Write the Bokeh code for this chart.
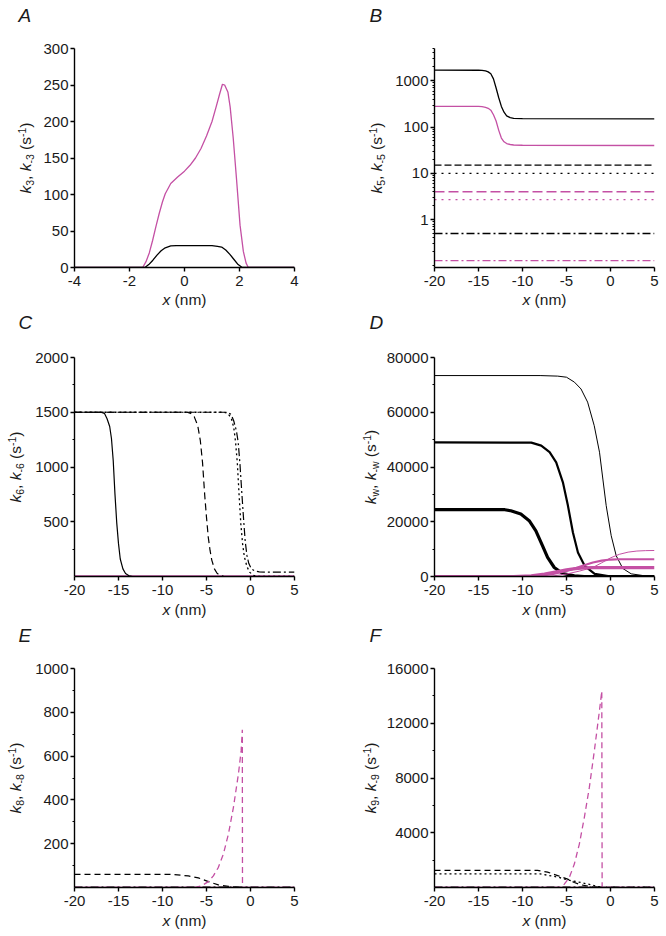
import math
from bokeh.plotting import figure
from bokeh.layouts import gridplot
from bokeh.models import Range1d, FixedTicker, NumeralTickFormatter
from bokeh.core.properties import value
from bokeh.embed import file_html
from bokeh.resources import INLINE

BLACK = "#000000"
PINK = "#c450a4"
FONT = "Liberation Sans"
TXT = "#1a1a1a"

# ---------------- data ----------------
# Panel A : k3 (black), k-3 (pink)
a_pink_x = [-4.0, -1.52, -1.40, -1.28, -1.16, -1.04, -0.92, -0.80, -0.70, -0.50, -0.25, 0.00, 0.20, 0.40,
            0.60, 0.80, 1.00, 1.15, 1.28, 1.38, 1.46, 1.58, 1.66, 1.77, 1.89, 2.02, 2.14, 2.24, 2.32, 4.0]
a_pink_y = [0, 0, 8, 20, 37, 56, 74, 90, 101, 115, 124, 132, 140, 150,
            163, 180, 200, 220, 238, 251, 250, 240, 220, 178, 122, 58, 22, 6, 0, 0]
a_black_x = [-4.0, -1.44, -1.30, -1.15, -1.00, -0.85, -0.70, -0.50, -0.30, 0.00, 0.50, 1.00, 1.20, 1.35,
             1.50, 1.65, 1.80, 1.95, 2.10, 4.0]
a_black_y = [0, 0, 4, 10, 17, 23, 27, 29.5, 30, 30, 30, 30, 29, 28,
             24, 18, 11, 4, 0, 0]
a_yticks = [0, 50, 100, 150, 200, 250, 300]
a_xticks = [-4, -2, 0, 2, 4]

# Panel B : k5, k-5 (log scale)
b_sig_x = [-20, -15.0, -14.6, -14.2, -13.9, -13.6, -13.3, -13.0, -12.7, -12.4, -12.1, -11.8, -11.4, -11.0, -10.0, 5]
b_black_sig_y = [1700, 1695, 1680, 1640, 1560, 1420, 1100, 700, 430, 280, 210, 175, 160, 154, 152, 150]
b_pink_sig_y = [280, 279, 276, 268, 255, 232, 185, 135, 85, 58, 48, 44, 42, 41, 40.5, 40]
b_flat_x = [-20, 5]
b_black_dash_y = [15, 15]
b_black_dot_y = [10, 10]
b_pink_dash_y = [4, 4]
b_pink_dot_y = [2.7, 2.7]
b_black_dashdot_y = [0.5, 0.5]
b_pink_dashdot_y = [0.13, 0.13]
b_yticks = [1, 10, 100, 1000]
b_yminor = [0.1, 0.2, 0.3, 0.4, 0.5, 0.6, 0.7, 0.8, 0.9, 2, 3, 4, 5, 6, 7, 8, 9,
            20, 30, 40, 50, 60, 70, 80, 90, 200, 300, 400, 500, 600, 700, 800, 900,
            2000, 3000, 4000, 5000]
x_ticks_nm = [-20, -15, -10, -5, 0, 5]

# Panel C : k6, k-6
c_solid_x = [-20, -17.0, -16.6, -16.3, -16.0, -15.8, -15.6, -15.4, -15.2, -15.0, -14.8, -14.5, -14.2, -13.8, -13.4, 5]
c_solid_y = [1500, 1500, 1490, 1440, 1370, 1260, 1060, 750, 490, 300, 160, 70, 28, 6, 0, 0]
c_dash_x = [-20, -7.2, -6.8, -6.4, -6.0, -5.7, -5.45, -5.2, -5.0, -4.8, -4.6, -4.4, -4.1, -3.8, -3.4, -3.0, 5]
c_dash_y = [1500, 1500, 1490, 1460, 1380, 1240, 1040, 740, 540, 360, 240, 150, 70, 30, 8, 0, 0]
c_dot_x = [-20, -3.0, -2.6, -2.2, -1.9, -1.7, -1.5, -1.3, -1.1, -0.9, -0.7, -0.4, -0.1, 0.3, 0.7, 5]
c_dot_y = [1500, 1500, 1490, 1450, 1360, 1230, 1040, 750, 480, 300, 180, 90, 40, 12, 0, 0]
c_dashdot_x = [-20, -2.6, -2.2, -1.9, -1.6, -1.4, -1.2, -1.0, -0.8, -0.6, -0.4, -0.2, 0.1, 0.5, 1.0, 2.0, 5]
c_dashdot_y = [1500, 1500, 1480, 1420, 1330, 1226, 1030, 780, 540, 320, 190, 120, 70, 50, 42, 40, 40]
c_pink_x = [-20, 5]
c_pink_y = [6, 6]
c_yticks = [500, 1000, 1500, 2000]
c_yminor = [250, 750, 1250, 1750]

# Panel D : kw, k-w
d_thin_x = [-20, -8, -6, -5, -4.1, -3.35, -2.6, -1.85, -1.25, -0.87, -0.49, 0.08, 0.65, 1.4, 2.35, 3.9, 5]
d_thin_y = [73400, 73400, 73200, 72800, 71000, 68500, 63700, 55100, 45400, 35600, 25900, 14900, 7560, 2930, 975, 240, 100]
d_med_x = [-20, -9, -7.87, -6.92, -6.17, -5.41, -4.84, -4.27, -3.70, -2.94, -1.80, -0.28, 0.5, 5]
d_med_y = [49000, 48900, 47800, 45400, 41700, 34400, 25900, 16100, 8780, 3900, 975, 120, 0, 0]
d_thick_x = [-20, -12, -11.33, -10.19, -9.24, -8.48, -7.72, -7.15, -6.39, -5.44, -4.11, -3.0, 5]
d_thick_y = [24400, 24400, 24000, 22800, 20400, 16700, 11200, 6950, 3290, 1100, 240, 0, 0]
d_pthin_x = [-20, -7, -5, -3.5, -2, -1, 0, 1, 2, 3, 4, 5]
d_pthin_y = [0, 0, 900, 2000, 3300, 5000, 6800, 8100, 8900, 9300, 9450, 9500]
d_pmed_x = [-20, -10, -8, -6.5, -5, -4, -3, -2, -1, 0, 1, 5]
d_pmed_y = [0, 0, 300, 900, 2000, 3000, 4100, 5100, 5800, 6200, 6300, 6300]
d_pthick_x = [-20, -11, -9, -7.5, -6, -5, -4, -3, -2, 5]
d_pthick_y = [0, 0, 250, 900, 1800, 2400, 2900, 3150, 3250, 3250]
d_yticks = [0, 20000, 40000, 60000, 80000]
d_yminor = [10000, 30000, 50000, 70000]

# Panel E : k8, k-8
e_pink_x = [-20, -6.3, -5.55, -4.79, -4.22, -3.65, -3.08, -2.51, -1.94, -1.37, -1.06, -0.93, -0.91, 5]
e_pink_y = [0, 0, 8, 27, 53, 92, 153, 244, 366, 519, 626, 720, 0, 0]
e_black_x = [-20, -9, -7.07, -5.93, -4.79, -3.65, -2.51, -1.0, 5]
e_black_y = [60, 60, 53, 44, 27, 12, 5, 0, 0]
e_base_x = [-20, 5]
e_base_y = [2, 2]
e_zero_y = [0, 0]
e_yticks = [200, 400, 600, 800, 1000]
e_yminor = [100, 300, 500, 700, 900]

# Panel F : k9, k-9
f_pink_x = [-20, -5.8, -5.25, -4.68, -4.11, -3.54, -2.97, -2.40, -1.83, -1.25, -0.99, -0.95, 5]
f_pink_y = [0, 0, 244, 733, 1710, 3175, 5130, 7330, 10015, 12946, 14350, 0, 0]
f_dash_x = [-20, -8.3, -7.15, -6.0, -4.87, -4.11, -3.35, -2.21, -1.07, 5]
f_dash_y = [1250, 1250, 1120, 870, 610, 366, 195, 49, 0, 0]
f_dot_x = [-20, -8.0, -6.0, -4.49, -3.35, -2.21, -1.45, -0.68, 5]
f_dot_y = [1000, 1000, 760, 500, 366, 195, 73, 0, 0]
f_base_x = [-20, 5]
f_base_y = [30, 30]
f_zero_y = [0, 0]
f_yticks = [4000, 8000, 12000, 16000]
f_yminor = [2000, 6000, 10000, 14000]

# ---------------- helpers ----------------
W = {'k': 500, 'w': 722, 'x': 500, 'n': 556, 'm': 833, 's': 500, ',': 278, ' ': 278,
     '(': 333, ')': 333, '-': 333}
for d in "0123456789":
    W[d] = 556


def tw(text, size):
    return sum(W.get(c, 556) for c in text) * size / 1000.0


def put_text(p, x0, y0, s, xo, yo, angle, fs, style):
    r = p.text(x=[x0], y=[y0], text=[s], x_offset=xo, y_offset=yo, angle=angle,
               text_font=value(FONT), text_font_size=value(f"{fs}px"), text_font_style=style,
               text_align="left", text_baseline="middle", text_color=TXT)
    r.level = "annotation"
    return r


SUB_SHIFT = 4.8   # centre of a subscript below the main text centre
SUP_SHIFT = -3.7  # centre of a superscript relative to the main text centre


def rich(p, x0, y0, segs, x_off, y_off, angle, size, sub_size):
    # offsets in screen pixels (y positive = down); anchor = vertical middle of main text
    pos = 0.0
    for text, kind in segs:
        fs = sub_size if kind in ("sub", "sup") else size
        style = "italic" if kind == "i" else "normal"
        shift = {"sub": SUB_SHIFT, "sup": SUP_SHIFT}.get(kind, 0.0)
        lead = len(text) - len(text.lstrip(" "))
        pos += tw(" " * lead, fs)
        body = text.strip(" ")
        if angle == 0:
            xo, yo = x_off + pos, y_off + shift
        else:
            xo, yo = x_off + shift, y_off - pos
        put_text(p, x0, y0, body, xo, yo, angle, fs, style)
        pos += tw(body, fs) + tw(text[lead + len(body):], fs)


def total_width(segs, size, sub_size):
    return sum(tw(t, sub_size if k in ("sub", "sup") else size) for t, k in segs)


FRAME_W = 220
FRAME_H = 219
TS = 15.5
SS = 10.5


def make_fig(width, height, left, right, top, bottom, xr, yr, y_type="linear"):
    p = figure(width=width, height=height, x_range=Range1d(*xr), y_range=Range1d(*yr),
               y_axis_type=y_type, output_backend="svg", toolbar_location=None,
               min_border_left=left, min_border_right=right, min_border_top=top,
               min_border_bottom=bottom)
    p.outline_line_color = None
    p.xgrid.visible = False
    p.ygrid.visible = False
    p.background_fill_color = "white"
    p.border_fill_color = "white"
    return p


def style_axes(p, xticks, yticks, yminor):
    xa = p.xaxis[0]
    ya = p.yaxis[0]
    for ax in (xa, ya):
        ax.axis_line_width = 1.4
        ax.axis_line_color = BLACK
        ax.major_tick_line_width = 1.4
        ax.major_tick_line_color = BLACK
        ax.minor_tick_line_width = 1.0
        ax.minor_tick_line_color = BLACK
        ax.major_tick_in = 0
        ax.major_tick_out = 4
        ax.minor_tick_in = 0
        ax.minor_tick_out = 2
        ax.major_label_text_font = FONT
        ax.major_label_text_font_size = "15px"
        ax.major_label_text_color = TXT
        ax.formatter = NumeralTickFormatter(format="0")
    xa.ticker = FixedTicker(ticks=xticks, minor_ticks=[])
    xa.major_label_standoff = 4
    ya.ticker = FixedTicker(ticks=yticks, minor_ticks=yminor)
    ya.major_label_standoff = 2


def decorate(p, letter, letter_dx, letter_dy, sub1, sub2, d_title, title_dy):
    x0 = p.x_range.start
    y0 = p.y_range.start
    put_text(p, x0, y0, letter, letter_dx, letter_dy, 0, 19, "italic")
    xsegs = [("x", "i"), (" (nm)", "n")]
    wx = total_width(xsegs, TS, SS)
    rich(p, x0, y0, xsegs, FRAME_W / 2 - wx / 2, title_dy, 0, TS, SS)
    ysegs = [("k", "i"), (sub1, "sub"), (", ", "n"), ("k", "i"), (sub2, "sub"),
             (" (s", "n"), ("-1", "sup"), (")", "n")]
    wy = total_width(ysegs, TS, SS)
    rich(p, x0, y0, ysegs, -d_title, -(FRAME_H / 2 - wy / 2), math.pi / 2, TS, SS)


C1 = dict(width=331, left=74, right=37)
C2 = dict(width=335, left=103, right=12)
R1 = dict(height=310, top=48, bottom=43)
R2 = dict(height=310, top=47, bottom=44)
R3 = dict(height=316, top=48, bottom=49)


def fig(col, row, xr, yr, y_type="linear"):
    return make_fig(col["width"], row["height"], col["left"], col["right"], row["top"], row["bottom"],
                    xr, yr, y_type)


# ---------------- Panel A ----------------
pA = fig(C1, R1, (-4, 4), (0, 300))
pA.line(a_pink_x, a_pink_y, line_color=PINK, line_width=1.3)
pA.line(a_black_x, a_black_y, line_color=BLACK, line_width=1.3)
style_axes(pA, a_xticks, a_yticks, [])
decorate(pA, "A", -56, -252.5, "3", "-3", 49, 32)

# ---------------- Panel B ----------------
pB = fig(C2, R1, (-20, 5), (0.092, 5000), "log")
pB.line(b_sig_x, b_black_sig_y, line_color=BLACK, line_width=1.3)
pB.line(b_sig_x, b_pink_sig_y, line_color=PINK, line_width=1.3)
pB.line(b_flat_x, b_black_dash_y, line_color=BLACK, line_width=1.3, line_dash="7 3")
pB.line(b_flat_x, b_black_dot_y, line_color=BLACK, line_width=1.4, line_dash="2 5")
pB.line(b_flat_x, b_pink_dash_y, line_color=PINK, line_width=1.3, line_dash="10 4")
pB.line(b_flat_x, b_pink_dot_y, line_color=PINK, line_width=1.4, line_dash="2 5")
pB.line(b_flat_x, b_black_dashdot_y, line_color=BLACK, line_width=1.3, line_dash="8 3 2 3")
pB.line(b_flat_x, b_pink_dashdot_y, line_color=PINK, line_width=1.3, line_dash="8 3 2 3")
style_axes(pB, x_ticks_nm, b_yticks, b_yminor)
decorate(pB, "B", -65, -252.5, "5", "-5", 58, 32)

# ---------------- Panel C ----------------
pC = fig(C1, R2, (-20, 5), (0, 2000))
pC.line(c_pink_x, c_pink_y, line_color=PINK, line_width=1.3)
pC.line(c_solid_x, c_solid_y, line_color=BLACK, line_width=1.2)
pC.line(c_dash_x, c_dash_y, line_color=BLACK, line_width=1.2, line_dash="7 4")
pC.line(c_dot_x, c_dot_y, line_color=BLACK, line_width=1.3, line_dash="2 3")
pC.line(c_dashdot_x, c_dashdot_y, line_color=BLACK, line_width=1.2, line_dash="8 3 2 3")
style_axes(pC, x_ticks_nm, c_yticks, c_yminor)
decorate(pC, "C", -56, -254.5, "6", "-6", 59, 32.5)

# ---------------- Panel D ----------------
pD = fig(C2, R2, (-20, 5), (0, 80000))
pD.line(d_thin_x, d_thin_y, line_color=BLACK, line_width=1.0)
pD.line(d_med_x, d_med_y, line_color=BLACK, line_width=2.2)
pD.line(d_thick_x, d_thick_y, line_color=BLACK, line_width=3.2)
pD.line(d_pthin_x, d_pthin_y, line_color=PINK, line_width=1.0)
pD.line(d_pmed_x, d_pmed_y, line_color=PINK, line_width=2.2)
pD.line(d_pthick_x, d_pthick_y, line_color=PINK, line_width=3.2)
style_axes(pD, x_ticks_nm, d_yticks, d_yminor)
decorate(pD, "D", -65, -254.5, "w", "-w", 64, 32.5)

# ---------------- Panel E ----------------
pE = fig(C1, R3, (-20, 5), (0, 1000))
pE.line(e_base_x, e_zero_y, line_color=PINK, line_width=1.3)
pE.line(e_base_x, e_base_y, line_color=BLACK, line_width=1.2, line_dash="8 3 2 3")
pE.line(e_black_x, e_black_y, line_color=BLACK, line_width=1.2, line_dash="6 4")
pE.line(e_pink_x, e_pink_y, line_color=PINK, line_width=1.3, line_dash="6 4")
style_axes(pE, x_ticks_nm, e_yticks, e_yminor)
decorate(pE, "E", -56, -252.5, "8", "-8", 59, 32.5)

# ---------------- Panel F ----------------
pF = fig(C2, R3, (-20, 5), (0, 16000))
pF.line(f_base_x, f_zero_y, line_color=PINK, line_width=1.3)
pF.line(f_base_x, f_base_y, line_color=BLACK, line_width=1.2, line_dash="8 3 2 3")
pF.line(f_dash_x, f_dash_y, line_color=BLACK, line_width=1.2, line_dash="6 4")
pF.line(f_dot_x, f_dot_y, line_color=BLACK, line_width=1.3, line_dash="2 3")
pF.line(f_pink_x, f_pink_y, line_color=PINK, line_width=1.3, line_dash="6 4")
style_axes(pF, x_ticks_nm, f_yticks, f_yminor)
decorate(pF, "F", -65, -252.5, "9", "-9", 64, 32.5)

grid = gridplot([[pA, pB], [pC, pD], [pE, pF]], toolbar_location=None)

open("out.html", "w").write(file_html(grid, INLINE, title="Rate constants"))
